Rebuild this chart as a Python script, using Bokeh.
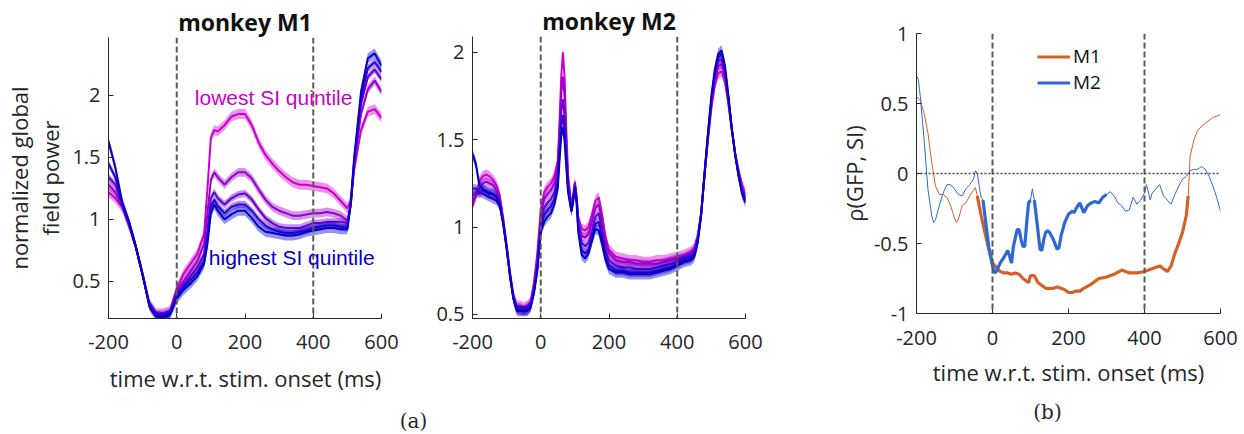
import numpy as np
from bokeh.plotting import figure
from bokeh.layouts import row, column
from bokeh.models import Span, Label, Legend, LegendItem, FixedTicker, Range1d
from bokeh.embed import file_html
from bokeh.resources import INLINE

# ---------------- data: monkey M1 GFP per SI quintile ----------------
t_m1 = [-200, -180, -160, -140, -120, -100, -80, -60, -40, -20, 0, 20, 40, 60, 80, 90, 100, 110, 120,
        140, 160, 180, 200, 220, 240, 260, 280, 300, 320, 340, 360, 380, 400, 420, 440, 460, 480, 500,
        510, 520, 540, 560, 580, 600]
m1_q1 = [1.22, 1.17, 1.10, 0.95, 0.78, 0.56, 0.32, 0.24, 0.24, 0.26, 0.44, 0.56, 0.64, 0.72, 0.88, 1.25, 1.66, 1.72, 1.71,
         1.76, 1.83, 1.85, 1.85, 1.76, 1.62, 1.52, 1.45, 1.39, 1.34, 1.30, 1.28, 1.28, 1.27, 1.26, 1.25, 1.21, 1.15, 1.09,
         1.15, 1.40, 1.72, 1.87, 1.89, 1.82]
m1_q2 = [1.28, 1.22, 1.11, 0.96, 0.78, 0.56, 0.31, 0.23, 0.23, 0.25, 0.42, 0.50, 0.58, 0.66, 0.80, 1.05, 1.32, 1.38, 1.34,
         1.28, 1.34, 1.38, 1.38, 1.33, 1.24, 1.16, 1.10, 1.07, 1.05, 1.03, 1.03, 1.04, 1.05, 1.05, 1.06, 1.05, 1.03, 0.99,
         1.12, 1.44, 1.85, 2.05, 2.12, 2.03]
m1_q3 = [1.34, 1.28, 1.12, 0.97, 0.78, 0.55, 0.31, 0.23, 0.22, 0.24, 0.40, 0.47, 0.54, 0.61, 0.72, 0.92, 1.17, 1.22, 1.17,
         1.12, 1.17, 1.20, 1.21, 1.16, 1.08, 1.01, 0.97, 0.94, 0.93, 0.93, 0.93, 0.95, 0.97, 0.97, 0.98, 0.98, 0.98, 0.97,
         1.12, 1.46, 1.93, 2.15, 2.21, 2.13]
m1_q4 = [1.45, 1.34, 1.13, 0.98, 0.78, 0.55, 0.30, 0.22, 0.22, 0.24, 0.38, 0.45, 0.51, 0.57, 0.67, 0.85, 1.10, 1.16, 1.11,
         1.05, 1.10, 1.12, 1.12, 1.07, 1.00, 0.95, 0.92, 0.90, 0.89, 0.89, 0.90, 0.91, 0.93, 0.94, 0.95, 0.95, 0.94, 0.93,
         1.12, 1.48, 1.98, 2.22, 2.27, 2.19]
m1_q5 = [1.63, 1.42, 1.14, 0.98, 0.78, 0.55, 0.30, 0.22, 0.21, 0.23, 0.36, 0.43, 0.48, 0.54, 0.64, 0.80, 1.05, 1.12, 1.07,
         1.00, 1.04, 1.07, 1.07, 1.01, 0.94, 0.90, 0.89, 0.88, 0.87, 0.87, 0.88, 0.90, 0.91, 0.92, 0.93, 0.93, 0.92, 0.92,
         1.14, 1.50, 2.03, 2.30, 2.34, 2.24]
sem_m1 = [0.04, 0.035, 0.03, 0.03, 0.04]

# ---------------- data: monkey M2 GFP per SI quintile ----------------
t_m2 = [-200, -190, -180, -170, -160, -150, -140, -130, -120, -110, -100, -90, -80, -70, -60, -50, -40, -30, -20, -10,
        0, 10, 20, 30, 40, 50, 55, 60, 65, 70, 75, 80, 90, 95, 100, 105, 110, 120, 130, 140, 150, 160, 170, 180,
        190, 200, 220, 240, 260, 280, 300, 320, 340, 360, 380, 400, 420, 440, 450, 460, 470, 480, 490, 500, 510,
        520, 530, 540, 550, 560, 570, 580, 590, 600]
m2_q1 = [1.12, 1.18, 1.26, 1.29, 1.30, 1.29, 1.27, 1.24, 1.18, 1.05, 0.90, 0.74, 0.61, 0.55, 0.55, 0.54, 0.55, 0.57, 0.68, 0.85,
         1.10, 1.20, 1.23, 1.25, 1.29, 1.38, 1.60, 1.86, 2.00, 1.85, 1.55, 1.30, 1.12, 1.18, 1.26, 1.18, 1.05, 0.99, 0.98, 1.00,
         1.07, 1.15, 1.17, 1.07, 0.94, 0.87, 0.83, 0.82, 0.81, 0.81, 0.80, 0.80, 0.81, 0.81, 0.82, 0.83, 0.84, 0.86, 0.88,
         0.95, 1.08, 1.30, 1.50, 1.68, 1.81, 1.88, 1.89, 1.83, 1.70, 1.55, 1.42, 1.32, 1.24, 1.19]
m2_q2 = [1.15, 1.18, 1.22, 1.25, 1.26, 1.25, 1.24, 1.21, 1.16, 1.04, 0.89, 0.73, 0.60, 0.54, 0.54, 0.53, 0.54, 0.56, 0.66, 0.81,
         1.06, 1.16, 1.19, 1.21, 1.25, 1.34, 1.54, 1.76, 1.86, 1.74, 1.48, 1.27, 1.11, 1.17, 1.25, 1.17, 1.03, 0.95, 0.94, 0.96,
         1.03, 1.11, 1.13, 1.03, 0.91, 0.85, 0.81, 0.80, 0.80, 0.79, 0.79, 0.79, 0.79, 0.80, 0.81, 0.82, 0.83, 0.85, 0.87,
         0.94, 1.08, 1.30, 1.51, 1.70, 1.84, 1.92, 1.93, 1.86, 1.72, 1.56, 1.42, 1.31, 1.22, 1.17]
m2_q3 = [1.18, 1.20, 1.19, 1.21, 1.21, 1.20, 1.19, 1.18, 1.14, 1.03, 0.88, 0.72, 0.59, 0.53, 0.53, 0.52, 0.53, 0.55, 0.64, 0.78,
         1.02, 1.11, 1.14, 1.16, 1.20, 1.30, 1.48, 1.66, 1.73, 1.63, 1.42, 1.24, 1.10, 1.16, 1.24, 1.16, 1.01, 0.91, 0.89, 0.91,
         0.98, 1.06, 1.08, 0.98, 0.87, 0.81, 0.78, 0.77, 0.77, 0.76, 0.76, 0.76, 0.77, 0.78, 0.79, 0.80, 0.82, 0.83, 0.85,
         0.93, 1.07, 1.30, 1.52, 1.72, 1.86, 1.95, 1.96, 1.88, 1.73, 1.56, 1.41, 1.30, 1.21, 1.16]
m2_q4 = [1.22, 1.22, 1.20, 1.19, 1.18, 1.17, 1.16, 1.15, 1.12, 1.02, 0.88, 0.72, 0.59, 0.53, 0.52, 0.52, 0.52, 0.54, 0.63, 0.76,
         0.99, 1.07, 1.10, 1.12, 1.16, 1.26, 1.43, 1.58, 1.64, 1.55, 1.38, 1.22, 1.09, 1.15, 1.23, 1.15, 0.99, 0.87, 0.85, 0.87,
         0.94, 1.02, 1.03, 0.94, 0.84, 0.78, 0.75, 0.75, 0.74, 0.74, 0.74, 0.74, 0.75, 0.76, 0.77, 0.79, 0.81, 0.82, 0.84,
         0.92, 1.07, 1.30, 1.53, 1.73, 1.88, 1.97, 1.99, 1.90, 1.74, 1.56, 1.41, 1.29, 1.20, 1.15]
m2_q5 = [1.42, 1.36, 1.24, 1.22, 1.20, 1.19, 1.19, 1.17, 1.13, 1.02, 0.88, 0.72, 0.59, 0.52, 0.52, 0.52, 0.52, 0.54, 0.62, 0.75,
         0.97, 1.03, 1.06, 1.08, 1.13, 1.22, 1.38, 1.52, 1.57, 1.49, 1.34, 1.20, 1.09, 1.15, 1.22, 1.14, 0.97, 0.84, 0.82, 0.85,
         0.92, 0.99, 0.98, 0.90, 0.81, 0.76, 0.74, 0.74, 0.73, 0.73, 0.73, 0.73, 0.74, 0.75, 0.76, 0.78, 0.80, 0.81, 0.83,
         0.91, 1.07, 1.31, 1.54, 1.75, 1.90, 1.99, 2.01, 1.92, 1.75, 1.56, 1.41, 1.29, 1.19, 1.14]
sem_m2 = [0.03, 0.025, 0.025, 0.025, 0.03]

# ---------------- data: correlation rho(GFP, SI) ----------------
t_rho_m1 = [-200, -190, -180, -170, -160, -150, -140, -130, -120, -110, -100, -95, -90, -80, -70, -60, -50, -45, -40, -30,
            -20, -10, 0, 10, 20, 30, 40, 50, 60, 70, 80, 90, 95, 100, 110, 120, 130, 140, 150, 160, 170, 180, 190, 200,
            210, 220, 230, 240, 260, 280, 300, 320, 340, 360, 380, 400, 420, 440, 460, 470, 480, 490, 500, 510, 515,
            520, 530, 540, 560, 580, 600]
rho_m1 = [0.55, 0.52, 0.43, 0.29, 0.08, -0.09, -0.15, -0.15, -0.17, -0.23, -0.32, -0.35, -0.33, -0.23, -0.21, -0.16, -0.12, -0.10, -0.16, -0.30,
          -0.42, -0.54, -0.64, -0.67, -0.70, -0.71, -0.71, -0.72, -0.71, -0.72, -0.75, -0.77, -0.78, -0.73, -0.73, -0.78, -0.80, -0.82, -0.82, -0.82,
          -0.81, -0.82, -0.83, -0.85, -0.85, -0.84, -0.84, -0.82, -0.79, -0.75, -0.74, -0.72, -0.69, -0.71, -0.71, -0.70, -0.68, -0.66, -0.70, -0.66,
          -0.57, -0.50, -0.42, -0.30, -0.16, 0.12, 0.24, 0.31, 0.36, 0.40, 0.42]
sig_m1 = [(-40, 515)]

t_rho_m2 = [-200, -195, -190, -180, -170, -160, -155, -150, -140, -130, -120, -110, -100, -90, -80, -70, -60, -50, -45, -40,
            -35, -30, -25, -20, -10, 0, 5, 10, 20, 30, 40, 45, 50, 55, 60, 65, 70, 75, 80, 85, 90, 95, 100, 105, 110, 115,
            120, 125, 130, 135, 140, 145, 150, 160, 170, 175, 180, 190, 200, 210, 215, 220, 230, 240, 250, 260, 270, 280,
            290, 300, 310, 320, 330, 340, 350, 360, 370, 380, 390, 400, 405, 410, 415, 420, 430, 440, 450, 460, 470, 480,
            490, 500, 510, 520, 530, 540, 550, 560, 570, 580, 590, 600]
rho_m2 = [0.70, 0.67, 0.55, 0.24, -0.11, -0.30, -0.35, -0.33, -0.23, -0.14, -0.08, -0.08, -0.11, -0.15, -0.16, -0.11, -0.08, -0.04, 0.02, 0.00,
          -0.09, -0.17, -0.19, -0.30, -0.52, -0.66, -0.71, -0.70, -0.64, -0.60, -0.55, -0.59, -0.64, -0.52, -0.46, -0.40, -0.40, -0.47, -0.52, -0.52,
          -0.35, -0.21, -0.19, -0.11, -0.19, -0.30, -0.42, -0.54, -0.55, -0.47, -0.42, -0.41, -0.42, -0.47, -0.54, -0.53, -0.45, -0.35, -0.29, -0.27,
          -0.28, -0.25, -0.21, -0.28, -0.23, -0.21, -0.20, -0.21, -0.17, -0.15, -0.13, -0.16, -0.21, -0.23, -0.27, -0.26, -0.17, -0.22, -0.19, -0.14,
          -0.08, -0.13, -0.19, -0.14, -0.11, -0.08, -0.16, -0.19, -0.22, -0.15, -0.09, -0.04, -0.02, 0.02, 0.03, 0.03, 0.05, 0.03, -0.02, -0.09,
          -0.17, -0.27]
sig_m2 = [(-25, 100), (110, 300)]

# ---------------- ticks / labels ----------------
x_ticks = [-200, 0, 200, 400, 600]
x_tick_labels = ["-200", "0", "200", "400", "600"]
gfp_ticks = [0.5, 1, 1.5, 2]
gfp_tick_labels = ["0.5", "1", "1.5", "2"]
rho_ticks = [-1, -0.5, 0, 0.5, 1]
rho_tick_labels = ["-1", "-0.5", "0", "0.5", "1"]
event_times = [0, 400]
x_label = "time w.r.t. stim. onset (ms)"

quintile_colors = ["#CC00CC", "#9900CC", "#6600CC", "#3300CC", "#0000CC"]
m1_color = "#D4612A"
m2_color = "#2F68D3"

FONT = "Open Sans"
TXT = "#262626"
PAGE_H = 434


def style(p, yticks, ylabels, xstandoff):
    p.frame_align = False
    p.grid.visible = False
    p.outline_line_color = None
    for ax in p.axis:
        ax.axis_line_color = TXT
        ax.axis_line_width = 1
        ax.major_tick_line_color = TXT
        ax.major_tick_in = 5
        ax.major_tick_out = 0
        ax.minor_tick_line_color = None
        ax.major_label_text_font = FONT
        ax.major_label_text_font_size = "20px"
        ax.major_label_text_color = TXT
        ax.axis_label_text_font = FONT
        ax.axis_label_text_font_size = "22px"
        ax.axis_label_text_font_style = "normal"
        ax.axis_label_text_color = TXT
    p.xaxis.ticker = FixedTicker(ticks=x_ticks)
    p.xaxis.major_label_overrides = {float(k): v for k, v in zip(x_ticks, x_tick_labels)}
    p.yaxis.ticker = FixedTicker(ticks=yticks)
    p.yaxis.major_label_overrides = {float(k): v for k, v in zip(yticks, ylabels)}
    p.xaxis.major_label_standoff = xstandoff
    p.yaxis.major_label_standoff = 8
    for tt in event_times:
        p.add_layout(Span(location=tt, dimension="height", line_color="#5a5a5a",
                          line_width=2, line_dash="6 3"))


def quintile_panel(p, t, series, sems):
    t = np.array(t, dtype=float)
    for ys, s, c in zip(series, sems, quintile_colors):
        ys = np.array(ys, dtype=float)
        p.varea(x=t, y1=ys - s, y2=ys + s, fill_color=c, fill_alpha=0.42)
        p.line(t, ys, line_color=c, line_width=2)


def set_title(p, txt):
    p.title.text = txt
    p.title.align = "center"
    p.title.text_font = FONT
    p.title.text_font_size = "23px"
    p.title.text_font_style = "bold"
    p.title.text_color = "#111111"
    p.title.standoff = 0


def caption(width, height, items):
    c = figure(width=width, height=height, x_range=Range1d(0, width), y_range=Range1d(0, height),
               min_border=0, output_backend="svg", toolbar_location=None)
    c.frame_align = False
    c.axis.visible = False
    c.grid.visible = False
    c.outline_line_color = None
    for x, y, txt, font, size in items:
        c.add_layout(Label(x=x, y=y, text=txt, text_font=font, text_font_size=size,
                           text_align="center", text_baseline="middle", text_color=TXT))
    return c


# ---------------- panel 1 ----------------
H1 = 362
p1 = figure(width=430, height=H1, min_border_left=108, min_border_right=49,
            min_border_top=37, min_border_bottom=44,
            x_range=Range1d(-200, 600), y_range=Range1d(0.2, 2.468),
            output_backend="svg", toolbar_location=None)
set_title(p1, "monkey M1")
style(p1, gfp_ticks, gfp_tick_labels, 16)
p1.yaxis.axis_label = "normalized global\nfield power"
p1.yaxis.axis_label_text_line_height = 1.05
p1.yaxis.axis_label_standoff = 4
quintile_panel(p1, t_m1, [m1_q1, m1_q2, m1_q3, m1_q4, m1_q5], sem_m1)
p1.add_layout(Label(x=53, y=1.98, text="lowest SI quintile", text_color=quintile_colors[0],
                    text_font="Liberation Sans", text_font_size="21px", text_baseline="middle"))
p1.add_layout(Label(x=94, y=0.69, text="highest SI quintile", text_color=quintile_colors[4],
                    text_font="Liberation Sans", text_font_size="21px", text_baseline="middle"))
c1 = caption(430, PAGE_H - H1, [(245, 57, x_label, FONT, "22px"),
                                (413, 14, "(a)", "DejaVu Serif", "20px")])

# ---------------- panel 2 ----------------
p2 = figure(width=400, height=H1, min_border_left=42, min_border_right=85,
            min_border_top=36, min_border_bottom=44,
            x_range=Range1d(-200, 600), y_range=Range1d(0.477, 2.09),
            output_backend="svg", toolbar_location=None)
set_title(p2, "monkey M2")
style(p2, gfp_ticks, gfp_tick_labels, 16)
quintile_panel(p2, t_m2, [m2_q1, m2_q2, m2_q3, m2_q4, m2_q5], sem_m2)

# ---------------- panel 3 ----------------
H3 = 357
p3 = figure(width=414, height=H3, min_border_left=86, min_border_right=24,
            min_border_top=33, min_border_bottom=44,
            x_range=Range1d(-200, 600), y_range=Range1d(-1, 1),
            output_backend="svg", toolbar_location=None)
style(p3, rho_ticks, rho_tick_labels, 17)
p3.yaxis.axis_label = "ρ(GFP, SI)"
p3.yaxis.axis_label_standoff = 2
p3.add_layout(Span(location=0, dimension="width", line_color="#444444",
                   line_width=1.5, line_dash="2 2"))

legend_items = []
for name, tt, rr, sig, col in [("M1", t_rho_m1, rho_m1, sig_m1, m1_color),
                               ("M2", t_rho_m2, rho_m2, sig_m2, m2_color)]:
    tt = np.array(tt, dtype=float)
    rr = np.array(rr, dtype=float)
    p3.line(tt, rr, line_color=col, line_width=1)
    first = None
    for a, b in sig:
        m = (tt >= a) & (tt <= b)
        r = p3.line(tt[m], rr[m], line_color=col, line_width=3.2)
        if first is None:
            first = r
    legend_items.append(LegendItem(label=name, renderers=[first]))

leg = Legend(items=legend_items, location=(121, 218), margin=0, padding=0, spacing=0,
             glyph_width=33, glyph_height=25, label_height=25, label_standoff=3,
             label_text_font=FONT, label_text_font_size="19px", label_text_color="#111111",
             border_line_alpha=0, background_fill_alpha=0)
p3.add_layout(leg)
c3 = caption(414, PAGE_H - H3, [(238, 63, x_label, FONT, "22px"),
                                (217, 23, "(b)", "DejaVu Serif", "20px")])

layout = row(column(p1, c1), p2, column(p3, c3))
open("out.html", "w").write(file_html(layout, INLINE))
